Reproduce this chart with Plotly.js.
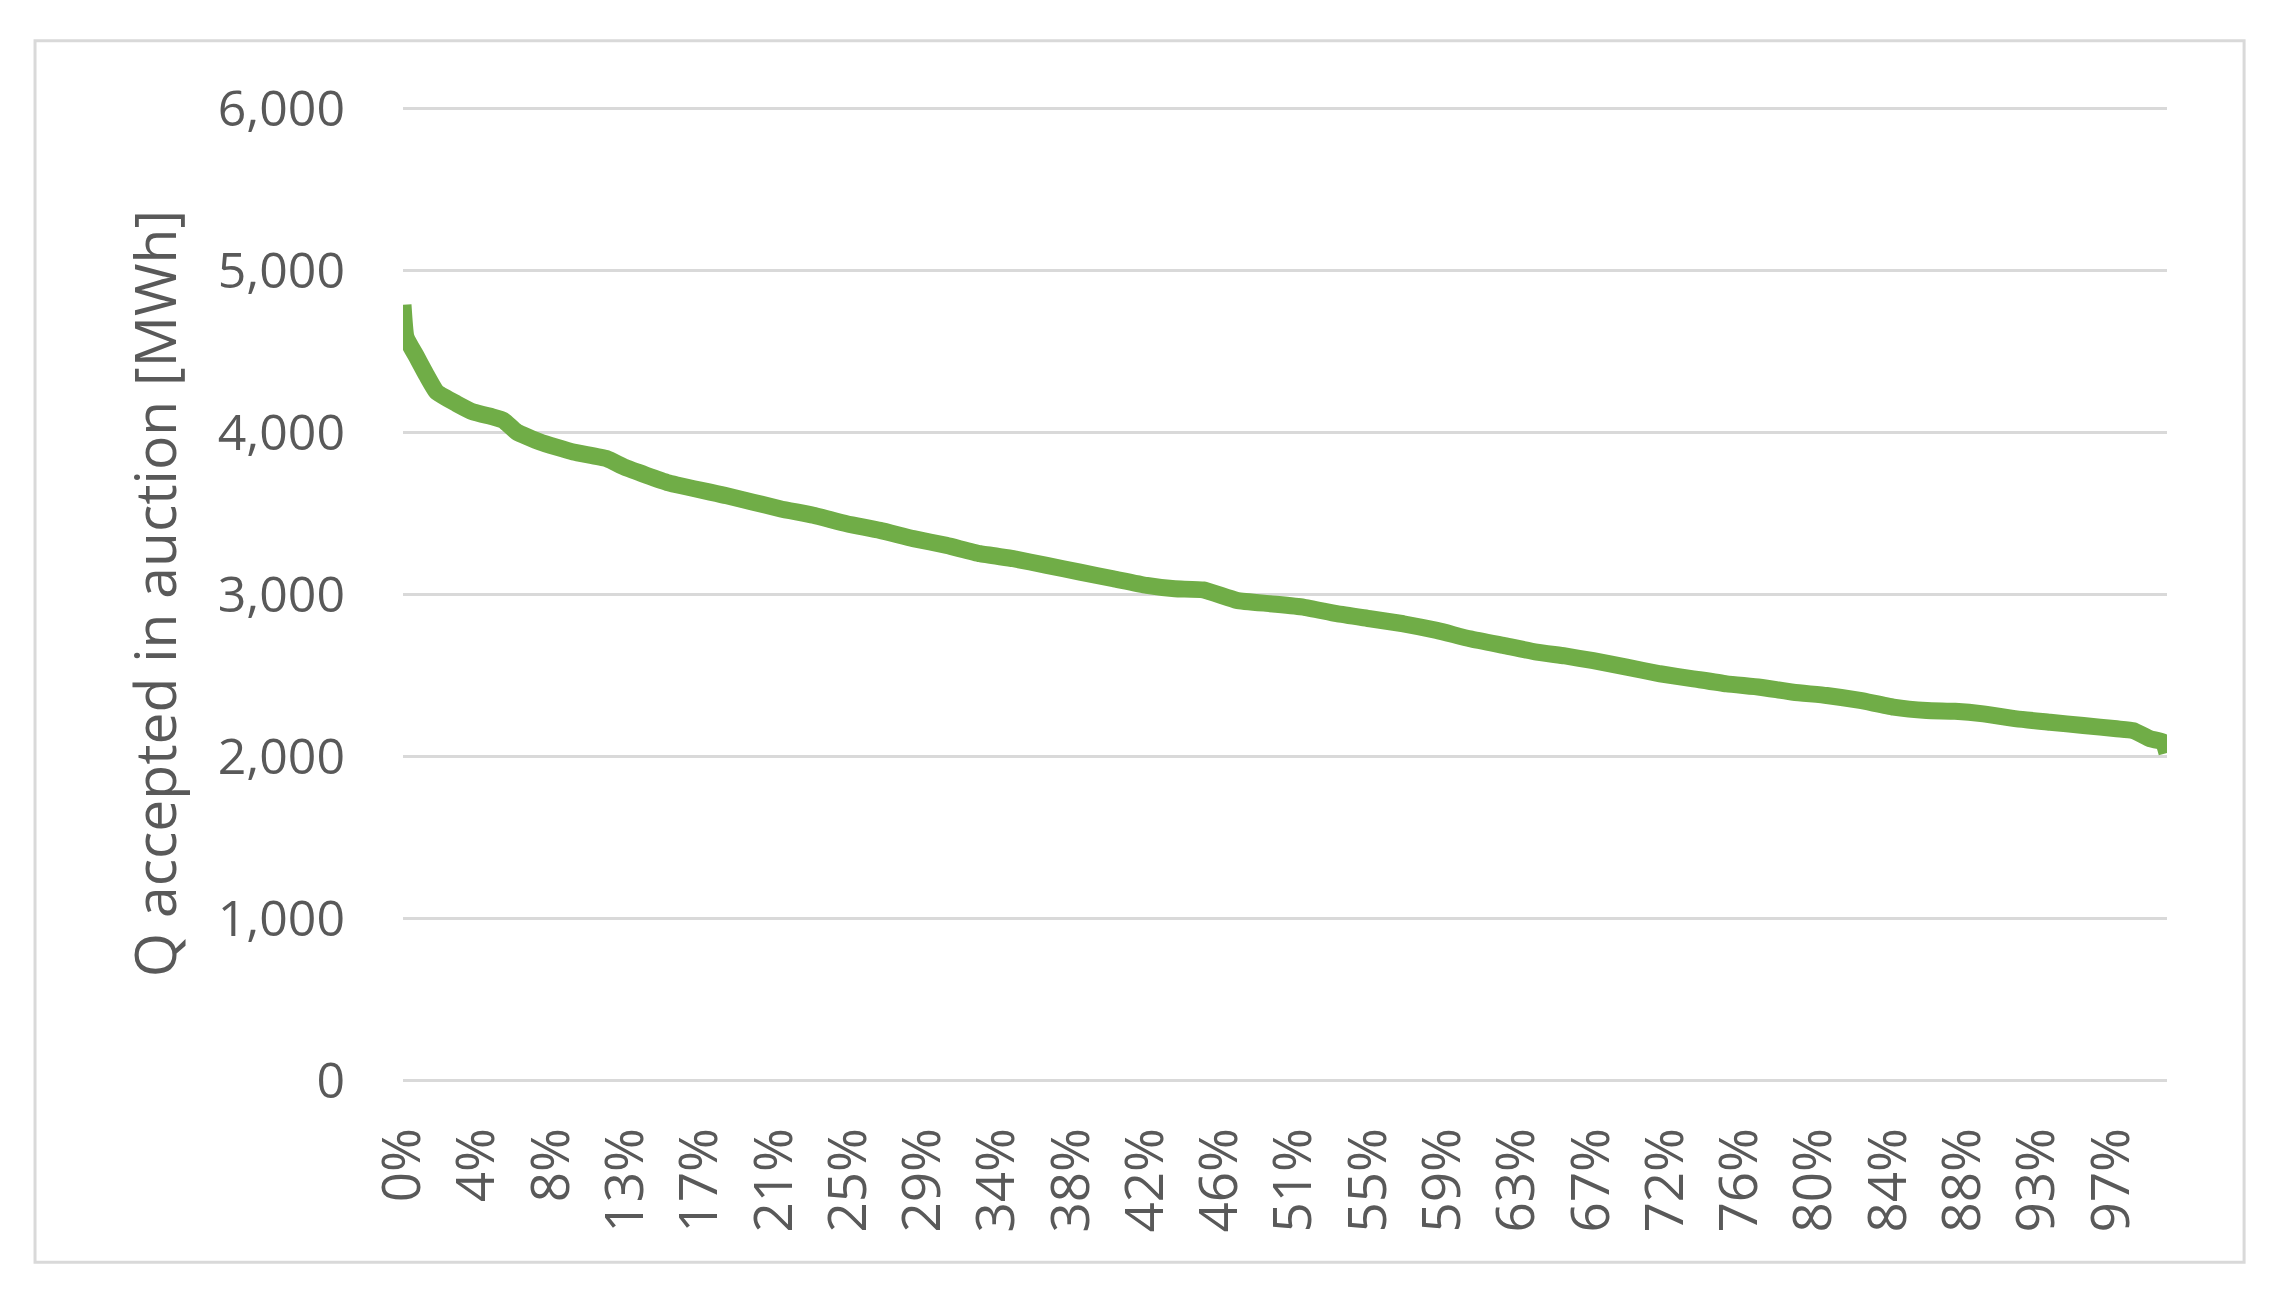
<!DOCTYPE html>
<html>
<head>
<meta charset="utf-8">
<script src="https://cdn.plot.ly/plotly-3.0.1.min.js"></script>
<style>
  html, body { margin: 0; padding: 0; background: #ffffff; }
  #chart { width: 2279px; height: 1309px; }
</style>
</head>
<body>
<div id="chart"></div>
<script>
// Share of hours (percent of the sorted period)
const pctRank = [0, 0.17, 0.78, 1.34, 1.91, 3.04, 3.99, 5.12, 5.69, 6.45, 7.77, 9.65, 11.55,
  12.59, 15.06, 18.35, 21.37, 23.26, 25.15, 27.04, 28.93, 30.82, 32.71, 34.60, 36.49,
  38.38, 40.27, 42.16, 43.76, 45.37, 47.26, 49.15, 51.04, 52.93, 54.82, 56.71, 58.60,
  60.49, 62.38, 64.27, 65.87, 67.48, 69.37, 71.26, 73.15, 75.04, 76.93, 78.82, 80.71,
  82.60, 84.49, 86.38, 87.98, 89.59, 91.48, 93.37, 95.26, 97.15, 98.09, 99.04, 99.79, 100];

// Q accepted in auction [MWh]
const qAccepted = [4790, 4590, 4467, 4354, 4251, 4179, 4127, 4096, 4076, 4004, 3942, 3880, 3839,
  3785, 3690, 3610, 3530, 3489, 3437, 3396, 3345, 3303, 3252, 3221, 3180,
  3138, 3097, 3056, 3035, 3028, 2964, 2943, 2922, 2881, 2850, 2819, 2778,
  2726, 2685, 2644, 2620, 2591, 2551, 2510, 2479, 2448, 2427, 2396, 2376,
  2345, 2304, 2283, 2278, 2262, 2231, 2211, 2190, 2170, 2159, 2108, 2088, 2020];

// Category labels shown on the horizontal axis (every 4th of 96 categories)
const tickPct = [0, 4.2105, 8.4211, 12.6316, 16.8421, 21.0526, 25.2632, 29.4737, 33.6842,
  37.8947, 42.1053, 46.3158, 50.5263, 54.7368, 58.9474, 63.1579, 67.3684, 71.5789,
  75.7895, 80.0, 84.2105, 88.4211, 92.6316, 96.8421];
const tickLabels = ['0%', '4%', '8%', '13%', '17%', '21%', '25%', '29%', '34%', '38%', '42%',
  '46%', '51%', '55%', '59%', '63%', '67%', '72%', '76%', '80%', '84%', '88%', '93%', '97%'];

const yTicks = [0, 1000, 2000, 3000, 4000, 5000, 6000];

const fontFamily = '"Open Sans", "Noto Sans", "DejaVu Sans", sans-serif';
const textColor = '#595959';
const gridColor = '#d9d9d9';

const trace = {
  x: pctRank,
  y: qAccepted,
  type: 'scatter',
  mode: 'lines',
  line: { color: '#70ad47', width: 17, shape: 'spline', smoothing: 0.4 },
  hoverinfo: 'x+y'
};

const layout = {
  width: 2279,
  height: 1309,
  margin: { l: 403, r: 112, t: 107, b: 229 },
  paper_bgcolor: '#ffffff',
  plot_bgcolor: '#ffffff',
  showlegend: false,
  font: { family: fontFamily, color: textColor, size: 50 },
  xaxis: {
    range: [0, 100],
    tickmode: 'array',
    tickvals: tickPct,
    ticktext: tickLabels,
    tickangle: -90,
    ticks: 'outside',
    ticklen: 26,
    tickcolor: 'rgba(0,0,0,0)',
    showgrid: false,
    zeroline: false,
    showline: false,
    tickfont: { family: fontFamily, color: textColor, size: 53 }
  },
  yaxis: {
    range: [0, 6012],
    tickmode: 'array',
    tickvals: yTicks,
    tickformat: ',d',
    ticks: 'outside',
    ticklen: 47,
    tickcolor: 'rgba(0,0,0,0)',
    showgrid: true,
    gridcolor: gridColor,
    gridwidth: 3,
    zeroline: true,
    zerolinecolor: gridColor,
    zerolinewidth: 3,
    showline: false,
    tickfont: { family: fontFamily, color: textColor, size: 50 },
    title: {
      text: 'Q accepted in auction [MWh]',
      font: { family: fontFamily, color: textColor, size: 57 },
      standoff: 22
    }
  },
  shapes: [{
    type: 'rect',
    xref: 'paper', yref: 'paper',
    x0: -0.2086, x1: 1.0437, y0: -0.1874, y1: 1.068,
    line: { color: gridColor, width: 3 },
    fillcolor: 'rgba(0,0,0,0)',
    layer: 'below'
  }]
};

Plotly.newPlot('chart', [trace], layout, { displayModeBar: false, staticPlot: true });
</script>
</body>
</html>
